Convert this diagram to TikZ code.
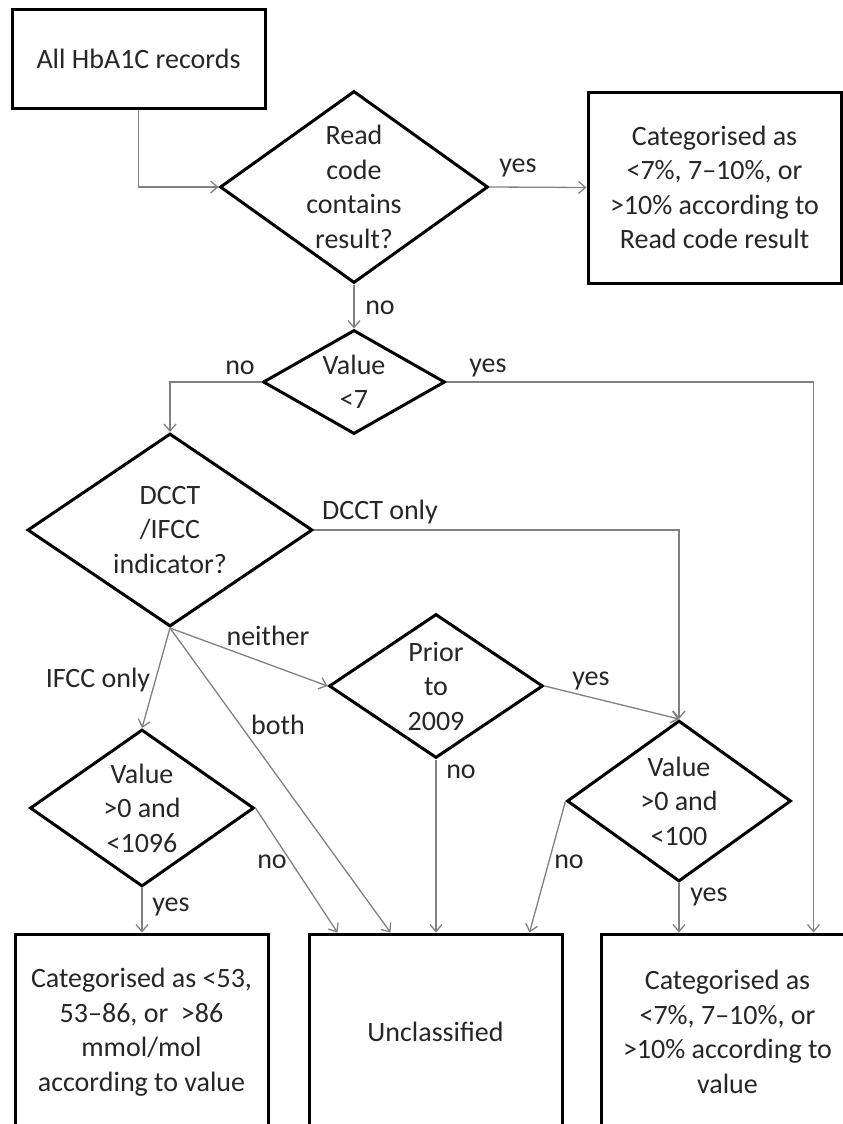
\documentclass[tikz,border=0pt]{standalone}
\usepackage{fontspec}
\setmainfont{Carlito}
\usetikzlibrary{shapes.geometric,arrows.meta}
\begin{document}
\begin{tikzpicture}[x=1pt,y=-1pt,
  every node/.style={font=\fontsize{28}{34.5}\selectfont, inner sep=0pt, text=black!85},
  box/.style={draw=black, line width=3pt, rectangle, align=center},
  dia/.style={draw=black, line width=3pt, diamond, inner sep=0pt},
  txt/.style={align=center},
  flow/.style={draw=black!50, line width=1.3pt, -{Straight Barb[length=7pt,width=12pt]}},
]
\useasboundingbox (0,0) rectangle (843,1124);
\clip (0,0) rectangle (843,1124);

% boxes
\node[box, minimum width=253pt, minimum height=98pt] (start) at (138.5,59) {All HbA1C records};
\node[box, minimum width=253pt, minimum height=191pt] (rt) at (714.5,187.5)
  {Categorised as\\<7\%, 7--10\%, or\\>10\% according to\\Read code result};
\node[box, minimum width=253pt, minimum height=196pt] (lb) at (141.5,1032)
  {Categorised as <53,\\53--86, or\ \ >86\\mmol/mol\\according to value};
\node[box, minimum width=253pt, minimum height=196pt] (uc) at (435.5,1032) {Unclassified};
\node[box, minimum width=253pt, minimum height=196pt] (rb) at (727.5,1032)
  {Categorised as\\<7\%, 7--10\%, or\\>10\% according to\\value};

% decisions
\node[dia, minimum width=268pt, minimum height=192pt] (rc) at (354,187) {};
\node[txt] (rc-t) at (rc) {Read\\code\\contains\\result?};
\node[dia, minimum width=182pt, minimum height=104pt] (vl7) at (354,382) {};
\node[txt] (vl7-t) at (vl7) {Value\\<7};
\node[dia, minimum width=285pt, minimum height=193pt] (dc) at (170,530) {};
\node[txt] (dc-t) at (dc) {DCCT\\/IFCC\\indicator?};
\node[dia, minimum width=214pt, minimum height=144pt] (pr) at (436,686) {};
\node[txt] (pr-t) at (pr) {Prior\\to\\2009};
\node[dia, minimum width=224pt, minimum height=157pt] (v96) at (142,808) {};
\node[txt] (v96-t) at (v96) {Value\\>0 and\\<1096};
\node[dia, minimum width=224pt, minimum height=161pt] (v100) at (679,801) {};
\node[txt] (v100-t) at (v100) {Value\\>0 and\\<100};

% connectors
\draw[flow] (start.south) |- (rc.west);
\draw[flow] (rc.east) -- (rt.west);
\draw[flow] (rc.south) -- (vl7.north);
\draw[flow] (vl7.west) -| (dc.north);
\draw[flow] (vl7.east) -| ([xshift=214pt]rb.north west);
\draw[flow] (dc.east) -| (v100.north);
\draw[flow] (dc.south) -- (v96.north);
\draw[flow] (dc.south) -- (pr.west);
\draw[flow] (dc.south) -- ([xshift=83pt]uc.north west);
\draw[flow] (pr.east) -- (v100.north);
\draw[flow] (pr.south) -- (pr.south |- uc.north);
\draw[flow] (v96.east) -- ([xshift=30pt]uc.north west);
\draw[flow] (v96.south) -- (v96.south |- lb.north);
\draw[flow] (v100.west) -- ([xshift=222pt]uc.north west);
\draw[flow] (v100.south) -- (v100.south |- rb.north);

% branch labels
\node (l1) at (518,168) {yes};
\node (l2) at (380,308) {no};
\node (l3) at (240,368) {no};
\node (l4) at (488,368) {yes};
\node (l5) at (380,512) {DCCT only};
\node (l6) at (268,636) {neither};
\node (l7) at (98,680) {IFCC only};
\node (l8) at (278,725) {both};
\node (l9) at (591,681) {yes};
\node (l10) at (461,772) {no};
\node (l11) at (272,862) {no};
\node (l12) at (569,862) {no};
\node (l13) at (171,907) {yes};
\node (l14) at (709,897) {yes};
\end{tikzpicture}
\end{document}
